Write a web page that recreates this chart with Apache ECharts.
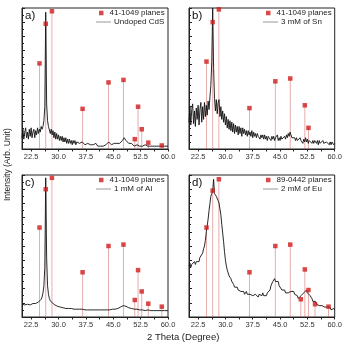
<!DOCTYPE html>
<html>
<head>
<meta charset="utf-8">
<script src="https://cdn.jsdelivr.net/npm/echarts@6/dist/echarts.min.js"></script>
<style>
  html, body { margin: 0; padding: 0; background: #fff; }
  #chart { width: 345px; height: 345px; }
</style>
</head>
<body>
<div id="chart"></div>
<script>
// XRD scans: start angle and step size (2 theta, degrees)
const scanStart = 20;
const scanStep = 0.25;

// Intensity (arb. units), one value per step from 20 to 60 degrees
const yUndoped = [
  8,14,7,12,15,8,12,7,14,9,15,8,12,14,8,13,10,15,11,14,
  12,16,14,16,20,30,97,32,20,16,15,11,14,10,13,8,12,7,11,7,
  10,6,9,6,9,5,8,5,8,4,7,4,7,4,6,3,6,4,6,3,
  5,4,5,4,5,3,5,4,4,3,4,3,4,3,4,3,3,4,3,2,
  3,4,3,2,3,3,2,3,3,2,3,3,3,4,4,5,4,5,3,4,
  3,4,3,3,4,3,4,4,5,5,6,7,8,7,6,5,5,4,4,3,
  4,3,3,2,3,2,3,3,3,2,3,3,2,3,2,3,2,3,2,3,
  2,2,3,2,2,3,2,2,3,2,2,1,2,2,3,1,2,2,1,2,
  2
];
const ySn = [
  19,30,17,28,32,18,27,16,29,21,31,17,28,33,19,30,21,33,23,31,
  24,34,28,37,45,62,100,58,36,27,35,25,33,35,23,30,21,27,19,25,
  17,23,15,21,14,20,13,19,12,18,11,17,12,16,10,16,11,15,9,15,
  11,14,10,13,9,13,10,12,9,13,8,12,9,11,8,11,9,10,7,10,
  8,10,7,10,7,9,6,9,8,10,6,9,7,9,6,8,7,10,6,8,
  6,9,7,8,6,9,7,10,8,11,9,12,10,8,9,7,8,6,8,6,
  7,5,8,6,7,4,7,5,8,5,7,4,6,5,7,4,6,4,6,5,
  4,6,3,6,4,5,3,6,4,5,3,5,4,5,3,5,3,5,4,3,
  4
];
const yAl = [
  9,8.5,9,8.5,9,8.5,9,8.5,9,8.5,9,9,9.5,9,9.5,9.5,10,10,10.5,11,
  11.5,12.5,14,17,22,35,98,42,22,16,13,11.5,10.5,10,9.5,9,8.5,8,8,7.5,
  7.5,7,7,7,6.5,6.5,6.5,6.5,6,6.5,6,6,6,6,6,5.5,6,5.5,5.5,5.5,
  5.5,5.5,5.5,5.5,5.5,5,5.5,5,5.5,5,5,5.5,5,5,5,5,5,5,5,5,
  5,5,4.5,5,5,4.5,5,5,5,4.5,5,5,5,5,5.5,5,5,5,5,5.5,
  5,5.5,5.5,5.5,6,6,6.5,6.5,7,7,7.5,8,8,8,7.5,7.5,7,6.5,6.5,6,
  6,5.5,5.5,5.5,5.5,5,5.5,5,5,5,5,5,5,5,5,4.5,5,4.5,5,4.5,
  4.5,4.5,4.5,4.5,4.5,4.5,4.5,4.5,4.5,4.5,4.5,4.5,4.5,4.5,4.5,4.5,4.5,4.5,4.5,4.5,
  4.5
];
const yEu = [
  36,38,35,37,38,36,39,37,39,38,40,39,42,41,43,45,48,50,54,60,
  64,69,75,80,85,87,89,97,87,88,85,86,82,80,76,72,65,59,53,46,
  40,36,33,31,29,28,27,25,24,23,21,22,20,21,19,20,19,18,19,17,
  18,16,17,18,16,17,15,16,15,17,15,16,14,16,15,16,14,16,15,16,
  15,17,15,16,16,15,17,16,17,19,22,23,25,24,27,25,26,24,25,22,
  21,22,19,20,18,19,17,18,16,17,16,18,18,19,17,18,16,17,15,15,
  13,14,13,15,16,15,17,18,18,19,17,18,16,15,14,13,11,12,10,11,
  9,10,9,8,9,8,8,7,8,7,7,6,7,6,6,7,5,6,5,6,
  5
];

// Reference pattern line positions (2 theta) and relative intensities
const refPosA = [24.8, 26.5, 28.2, 36.6, 43.7, 47.8, 50.9, 51.8, 52.8, 54.6, 58.3];
const refIntA = [60.7, 88.8, 97.7, 28.5, 47.2, 49, 7, 30, 14, 4.5, 2.5];
const refPosB = [24.8, 26.5, 28.2, 36.6, 43.7, 47.8, 51.8, 52.8];
const refIntB = [62, 90, 99, 29, 48, 50, 31, 15];
const refPosC = [24.8, 26.5, 28.2, 36.6, 43.7, 47.8, 50.9, 51.8, 52.8, 54.6, 58.3];
const refIntC = [63, 90, 98, 31.5, 50, 51, 12, 33, 18, 9.4, 7.3];
const refPosD = [24.8, 26.5, 28.2, 36.6, 43.7, 47.8, 50.7, 51.8, 52.8, 54.6, 58.3];
const refIntD = [63, 89, 97, 31.5, 50, 51, 12.5, 33.5, 19, 9, 7.3];

const panelTags = ['a)', 'b)', 'c)', 'd)'];
const refNames = ['41-1049 planes', '41-1049 planes', '41-1049 planes', '89-0442 planes'];
const sampleNames = ['Undoped CdS', '3 mM of Sn', '1 mM of Al', '2 mM of Eu'];
const xLabelValues = [22.5, 30, 37.5, 45, 52.5, 60];
const xTickValues = [22.5, 26.25, 30, 33.75, 37.5, 41.25, 45, 48.75, 52.5, 56.25, 60];

const scans = [yUndoped, ySn, yAl, yEu];
const refPos = [refPosA, refPosB, refPosC, refPosD];
const refInt = [refIntA, refIntB, refIntC, refIntD];

const FONT = 'Liberation Sans, Arial, sans-serif';
const boxes = [
  { left: 22, top: 8, width: 146, height: 141 },
  { left: 189, top: 8, width: 147, height: 141 },
  { left: 22, top: 175, width: 146, height: 142 },
  { left: 189, top: 175, width: 147, height: 142 }
];

const grid = [], xAxis = [], yAxis = [], series = [], legend = [], graphic = [];

boxes.forEach((b, i) => {
  grid.push({ left: b.left, top: b.top, width: b.width, height: b.height,
    show: true, borderColor: '#222', borderWidth: 1, backgroundColor: 'transparent' });
  xAxis.push({
    type: 'value', gridIndex: i, min: 20, max: 60,
    axisLine: { show: true, onZero: false, lineStyle: { color: '#222', width: 1 } },
    axisTick: { show: true, inside: false, length: 2.5, customValues: xTickValues, lineStyle: { color: '#222' } },
    axisLabel: { show: true, customValues: xLabelValues, margin: 4, fontSize: 7.5, color: '#333',
      fontFamily: FONT, formatter: v => Number(v).toFixed(1), showMaxLabel: true, showMinLabel: true },
    splitLine: { show: false }
  });
  yAxis.push({
    type: 'value', gridIndex: i, min: 0, max: 100, interval: 10,
    axisLine: { show: true, lineStyle: { color: '#222', width: 1 } },
    axisTick: { show: true, inside: true, length: 3, lineStyle: { color: '#222' } },
    minorTick: { show: true, splitNumber: 2, length: 2, lineStyle: { color: '#222' } },
    axisLabel: { show: false },
    splitLine: { show: false }
  });

  const sticks = refPos[i].map((p, k) => [p, refInt[i][k]]);
  const scan = scans[i].map((v, k) => [scanStart + k * scanStep, v]);

  series.push({
    type: 'bar', xAxisIndex: i, yAxisIndex: i, data: sticks, barWidth: 1, z: 1,
    itemStyle: { color: 'rgba(200,70,70,0.45)' }, silent: true, animation: false
  });
  series.push({
    name: sampleNames[i], type: 'line', xAxisIndex: i, yAxisIndex: i, data: scan, z: 2,
    symbol: 'none', lineStyle: { color: '#111', width: 0.9 }, itemStyle: { color: '#111' },
    animation: false
  });
  series.push({
    name: refNames[i], type: 'scatter', xAxisIndex: i, yAxisIndex: i, data: sticks, z: 3,
    symbol: 'rect', symbolSize: 4.5, itemStyle: { color: '#d01c1c' }, animation: false
  });

  legend.push({
    left: b.left + 77, top: b.top + 1, padding: 0, itemWidth: 4.5, itemHeight: 4.5,
    icon: 'rect', data: [{ name: refNames[i], itemStyle: { color: '#d01c1c' } }],
    textStyle: { fontSize: 8, color: '#222', fontFamily: FONT, padding: [0, 0, 0, 1] },
    selectedMode: false
  });
  legend.push({
    left: b.left + 74, top: b.top + 10, padding: 0, itemWidth: 15, itemHeight: 1,
    icon: 'rect', data: [{ name: sampleNames[i], itemStyle: { color: '#999' } }],
    textStyle: { fontSize: 8, color: '#222', fontFamily: FONT, padding: [0, 0, 0, -2] },
    selectedMode: false
  });

  graphic.push({
    type: 'text', left: b.left + 3, top: b.top + 2,
    style: { text: panelTags[i], fontSize: 11.5, fontFamily: FONT, fill: '#111' }
  });
});

graphic.push({
  type: 'text', x: 3, y: 201, rotation: Math.PI / 2,
  style: { text: 'Intensity (Arb. Unit)', fontSize: 8.5, fontFamily: FONT, fill: '#222' }
});
graphic.push({
  type: 'text', x: 147, y: 332,
  style: { text: '2 Theta (Degree)', fontSize: 9.5, fontFamily: FONT, fill: '#222' }
});

const chart = echarts.init(document.getElementById('chart'), null, { renderer: 'canvas' });
chart.setOption({
  animation: false,
  backgroundColor: '#fff',
  grid, xAxis, yAxis, series, legend, graphic
});
</script>
</body>
</html>
